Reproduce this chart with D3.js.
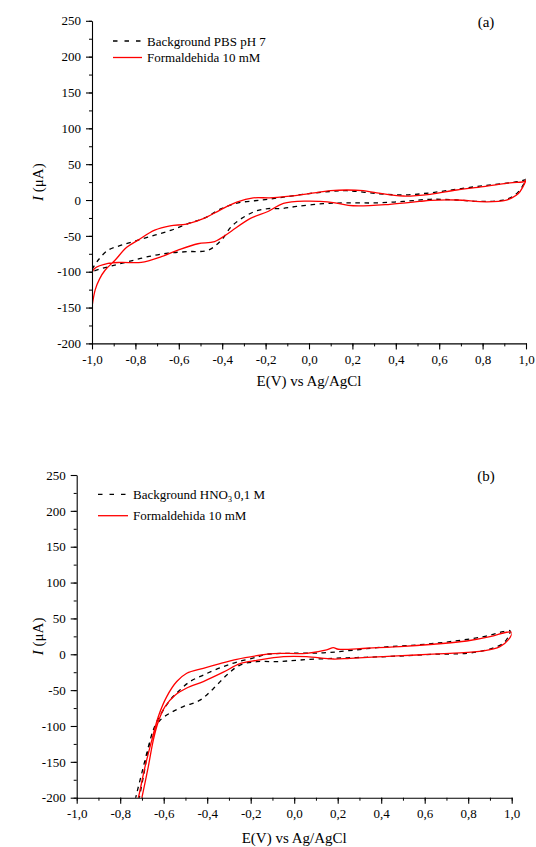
<!DOCTYPE html>
<html lang="en">
<head>
	<meta charset="utf-8">
	<title>Voltametria ciclica</title>
	<script type="text/javascript" src="https://cdn.jsdelivr.net/npm/d3@7"></script>
	<style type="text/css">
		body {
			margin: 0;
			background: #fff;
		}
	</style>
</head>
<body>
	<script type="text/javascript">
		//Tick values (shared by both panels)
		var xTicks = [-1, -0.8, -0.6, -0.4, -0.2, 0, 0.2, 0.4, 0.6, 0.8, 1];
		var xMinor = d3.range(-1, 1.001, 0.1);
		var yTicks = [-200, -150, -100, -50, 0, 50, 100, 150, 200, 250];
		var yMinor = d3.range(-200, 251, 25);

		//Panel (a): background PBS pH 7, closed loop [E, I]
		var aBackground = [
			[-1.0, -97], [-0.972, -84], [-0.926, -70], [-0.865, -63], [-0.788, -56], [-0.711, -49],
			[-0.634, -42], [-0.558, -33], [-0.48, -25], [-0.404, -12], [-0.327, -4], [-0.25, -1],
			[-0.189, 1], [-0.118, 4], [0.0, 9], [0.1, 12], [0.174, 13], [0.312, 9], [0.435, 7],
			[0.558, 10], [0.68, 15], [0.803, 20], [0.926, 24], [0.995, 28], [1.0, 29],
			[0.972, 14], [0.94, 5], [0.895, 0], [0.803, -2], [0.68, 0], [0.558, 1], [0.435, -2],
			[0.312, -4], [0.174, -4], [0.066, -5], [-0.057, -9], [-0.134, -12], [-0.189, -12],
			[-0.25, -16], [-0.312, -26], [-0.358, -37], [-0.404, -56], [-0.465, -70], [-0.558, -72],
			[-0.65, -74], [-0.742, -79], [-0.834, -86], [-0.911, -92], [-0.972, -97], [-1.0, -100]
		];

		//Panel (a): formaldehida 10 mM
		var aFormaldehyde = [
			[-1.0, -149], [-0.985, -125], [-0.965, -110], [-0.94, -98], [-0.894, -84], [-0.84, -66],
			[-0.788, -56], [-0.711, -42], [-0.64, -36], [-0.564, -33.5], [-0.487, -26], [-0.41, -14],
			[-0.333, -3], [-0.257, 3], [-0.18, 3], [-0.1, 5], [0.0, 9], [0.1, 13], [0.174, 14],
			[0.25, 13], [0.312, 10], [0.435, 5.6], [0.558, 8], [0.68, 14], [0.803, 18.6],
			[0.926, 24], [0.995, 26], [1.0, 28],
			[0.985, 18], [0.965, 9], [0.935, 3], [0.91, 0], [0.82, -2.5], [0.68, 0], [0.558, -0.5],
			[0.51, -2], [0.373, -6], [0.204, -8], [0.12, -4], [0.05, -2], [-0.01, -1.5],
			[-0.118, -4.7], [-0.189, -16], [-0.272, -26], [-0.373, -46.6], [-0.435, -58],
			[-0.512, -61], [-0.604, -70], [-0.68, -79], [-0.773, -87], [-0.865, -87], [-0.926, -88.5],
			[-0.988, -95.5], [-1.0, -101.5]
		];

		//Panel (b): background HNO3 0,1 M
		var bBackground = [
			[-0.74, -215], [-0.724, -194], [-0.701, -166], [-0.678, -138], [-0.655, -112],
			[-0.632, -94], [-0.571, -64], [-0.533, -52], [-0.479, -38], [-0.418, -29], [-0.341, -19],
			[-0.264, -11], [-0.172, -4], [-0.126, 0], [-0.02, 1.4], [0.134, 2], [0.25, 5],
			[0.38, 9.3], [0.563, 13], [0.716, 17.6], [0.87, 24.5], [0.961, 31.5], [0.992, 33],
			[0.985, 25], [0.96, 15], [0.885, 6], [0.793, 1.4], [0.64, 0], [0.486, -2.4],
			[0.333, -4.2], [0.18, -5.6], [0.027, -8], [-0.08, -10.3], [-0.172, -10.3], [-0.249, -15],
			[-0.31, -29], [-0.372, -48], [-0.433, -64], [-0.51, -73], [-0.571, -82], [-0.617, -92],
			[-0.648, -106], [-0.671, -133], [-0.69, -165], [-0.712, -200], [-0.72, -215]
		];

		//Panel (b): formaldehida 10 mM
		var bFormaldehyde = [
			[-0.73, -215], [-0.717, -200.8], [-0.686, -157], [-0.655, -120], [-0.625, -87],
			[-0.586, -59], [-0.54, -38], [-0.494, -26.5], [-0.418, -19.5], [-0.341, -13],
			[-0.264, -7], [-0.172, -2], [-0.096, 1], [0.057, 1.4], [0.149, 6], [0.18, 9.3],
			[0.203, 7], [0.333, 8.4], [0.486, 10.6], [0.64, 14], [0.793, 18.5], [0.9, 24.5],
			[0.977, 30.7], [1.0, 30.7],
			[0.984, 20], [0.946, 10.6], [0.87, 4.6], [0.716, 1.4], [0.563, -1], [0.41, -3.3],
			[0.257, -5.6], [0.18, -6.6], [0.057, -3.3], [-0.05, -3.3], [-0.172, -8.5], [-0.249, -13],
			[-0.326, -25], [-0.418, -38], [-0.494, -47], [-0.548, -57], [-0.594, -73], [-0.625, -94],
			[-0.648, -120], [-0.671, -157], [-0.701, -201], [-0.715, -220]
		];

		//Comma decimals, plain hyphen minus
		var locale = d3.formatLocale({ decimal: ",", thousands: ".", grouping: [3], currency: ["", ""], minus: "-" });
		var fmtX = locale.format(".1f");
		var fmtY = locale.format("d");

		var serif = "'Liberation Serif', 'Times New Roman', Times, serif";

		var w = 536;
		var h = 847;

		var svg = d3.select("body")
			.append("svg")
			.attr("width", w)
			.attr("height", h)
			.attr("font-family", serif);

		var panels = [
			{ id: "a", left: 92, right: 526, top: 20.8, bottom: 343.4, tag: "(a)",
				bg: aBackground, fo: aFormaldehyde, legendX: 113, legendY: 41, legendGap: 16.5,
				sampleW: 28, bgLabel: ["Background PBS pH 7"], xTitleY: 386 },
			{ id: "b", left: 76.7, right: 511.7, top: 475, bottom: 797.7, tag: "(b)",
				bg: bBackground, fo: bFormaldehyde, legendX: 98, legendY: 494.3, legendGap: 21.4,
				sampleW: 29, bgLabel: ["Background HNO", "3", "0,1 M"], xTitleY: 843 }
		];

		panels.forEach(function(p) {

			var x = d3.scaleLinear().domain([-1, 1]).range([p.left, p.right]);
			var y = d3.scaleLinear().domain([-200, 250]).range([p.bottom, p.top]);

			var g = svg.append("g");

			//clip curves to the plot area
			g.append("clipPath")
				.attr("id", "clip-" + p.id)
				.append("rect")
				.attr("x", p.left)
				.attr("y", p.top)
				.attr("width", p.right - p.left)
				.attr("height", p.bottom - p.top);

			var line = d3.line()
				.x(function(d) { return x(d[0]); })
				.y(function(d) { return y(d[1]); })
				.curve(d3.curveCatmullRom.alpha(0.5));

			var curves = g.append("g").attr("clip-path", "url(#clip-" + p.id + ")");

			curves.append("path")
				.attr("d", line(p.bg))
				.attr("fill", "none")
				.attr("stroke", "#000")
				.attr("stroke-width", 1.3)
				.attr("stroke-dasharray", "4.5,4.5");

			curves.append("path")
				.attr("d", line(p.fo))
				.attr("fill", "none")
				.attr("stroke", "#ff0000")
				.attr("stroke-width", 1.3);

			//minor ticks
			g.append("g")
				.attr("transform", "translate(0," + p.bottom + ")")
				.call(d3.axisBottom(x).tickValues(xMinor).tickSize(3).tickFormat(""))
				.call(function(s) { s.select(".domain").remove(); });

			g.append("g")
				.attr("transform", "translate(" + p.left + ",0)")
				.call(d3.axisLeft(y).tickValues(yMinor).tickSize(3).tickFormat(""))
				.call(function(s) { s.select(".domain").remove(); });

			//major axes
			var xAxis = g.append("g")
				.attr("transform", "translate(0," + p.bottom + ")")
				.call(d3.axisBottom(x).tickValues(xTicks).tickSize(6).tickSizeOuter(0).tickPadding(5).tickFormat(fmtX));

			var yAxis = g.append("g")
				.attr("transform", "translate(" + p.left + ",0)")
				.call(d3.axisLeft(y).tickValues(yTicks).tickSize(6).tickSizeOuter(0).tickPadding(5).tickFormat(fmtY));

			[xAxis, yAxis].forEach(function(a) {
				a.attr("font-family", serif).attr("font-size", 13);
				a.selectAll("text").attr("fill", "#000");
				a.selectAll("path, line").attr("stroke", "#000").attr("stroke-width", 1.1);
			});
			xAxis.selectAll("text").attr("dy", "0.72em");

			//axis titles
			g.append("text")
				.attr("x", (p.left + p.right) / 2)
				.attr("y", p.xTitleY)
				.attr("text-anchor", "middle")
				.attr("font-size", 15)
				.text("E(V) vs Ag/AgCl");

			var yt = g.append("text")
				.attr("transform", "translate(43," + ((p.top + p.bottom) / 2) + ") rotate(-90)")
				.attr("text-anchor", "middle")
				.attr("font-size", 15);
			yt.append("tspan").attr("font-style", "italic").text("I");
			yt.append("tspan").text(" (\u03bcA)");

			//panel tag
			g.append("text")
				.attr("x", 486)
				.attr("y", p.top + 6)
				.attr("text-anchor", "middle")
				.attr("font-size", 15)
				.text(p.tag);

			//legend
			g.append("line")
				.attr("x1", p.legendX).attr("x2", p.legendX + p.sampleW)
				.attr("y1", p.legendY).attr("y2", p.legendY)
				.attr("stroke", "#000")
				.attr("stroke-width", 1.3)
				.attr("stroke-dasharray", "4.5,7");

			g.append("line")
				.attr("x1", p.legendX).attr("x2", p.legendX + p.sampleW + 1)
				.attr("y1", p.legendY + p.legendGap).attr("y2", p.legendY + p.legendGap)
				.attr("stroke", "#ff0000")
				.attr("stroke-width", 1.3);

			var lt = g.append("text")
				.attr("x", p.legendX + p.sampleW + 6)
				.attr("y", p.legendY + 4.5)
				.attr("font-size", 13);
			lt.append("tspan").text(p.bgLabel[0]);
			if (p.bgLabel.length > 1) {
				lt.append("tspan").attr("dy", 3).attr("font-size", 8).text(p.bgLabel[1]);
				lt.append("tspan").attr("dy", -3).attr("dx", 2).text(p.bgLabel[2]);
			}

			g.append("text")
				.attr("x", p.legendX + p.sampleW + 6)
				.attr("y", p.legendY + p.legendGap + 4.5)
				.attr("font-size", 13)
				.text("Formaldehida 10 mM");
		});
	</script>
</body>
</html>
